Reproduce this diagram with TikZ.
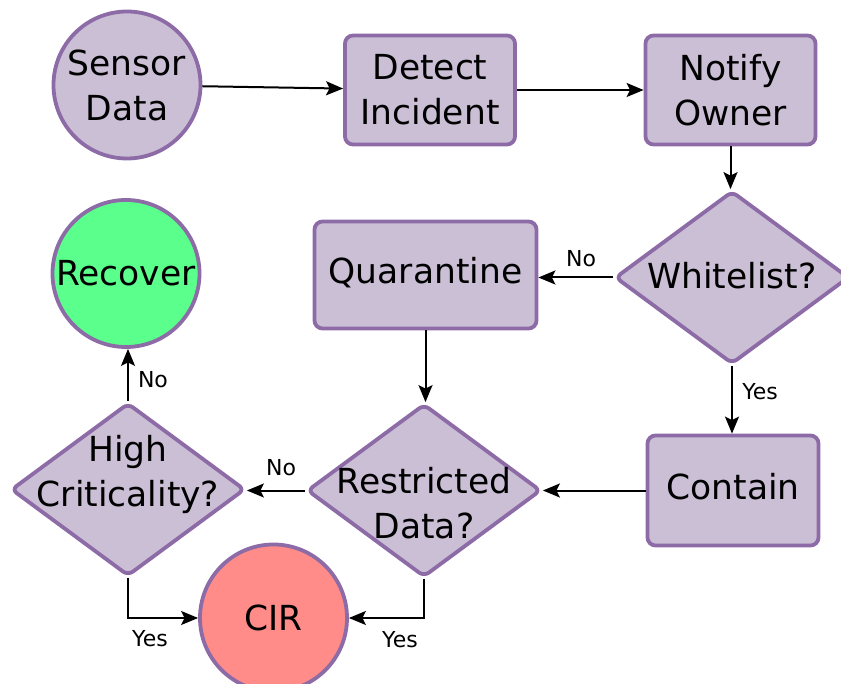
\documentclass[tikz,border=0pt]{standalone}
\usepackage{fontspec}
\setmainfont{DejaVu Sans}
\usetikzlibrary{shapes.geometric,arrows.meta}
\definecolor{fillc}{HTML}{CBBFD6}
\definecolor{bordc}{HTML}{8C6BA6}
\definecolor{greenc}{HTML}{5AFF8C}
\definecolor{redc}{HTML}{FF8C88}
\tikzset{
  base/.style={draw=bordc, fill=fillc, line width=3.8pt, align=center, inner sep=0pt,
    font=\fontsize{34.5}{45}\selectfont},
  boxn/.style={base, rectangle, rounded corners=8pt},
  circn/.style={base, circle, minimum size=147pt},
  dian/.style={base, diamond, rounded corners=6pt, minimum width=234pt, minimum height=173pt},
  txt/.style={align=center, inner sep=0pt, font=\fontsize{34.5}{45}\selectfont},
  lbl/.style={inner sep=0pt, font=\fontsize{22}{25}\selectfont},
  arr/.style={-{Stealth[length=17pt,width=14pt,inset=3.5pt]}, line width=2pt, black}
}
\begin{document}
\begin{tikzpicture}[x=1pt,y=-1pt]
\useasboundingbox (0,0) rectangle (841,684);
% nodes
\node[circn] (sd) at (127,85) {Sensor\\Data};
\node[boxn, minimum width=170pt, minimum height=109pt] (di) at (430,90) {Detect\\Incident};
\node[boxn, minimum width=170pt, minimum height=109pt] (no) at (730.5,90) {Notify\\Owner};
\node[dian] (wl) at (732,277.5) {};
\node[txt] (wlt) at (732,276) {Whitelist?};
\node[boxn, minimum width=222pt, minimum height=107pt] (qu) at (425.5,275) {Quarantine\strut};
\node[circn, fill=greenc] (rec) at (126,273.5) {Recover};
\node[dian] (hc) at (128,489.5) {};
\node[txt] (hct) at (128,474) {High\\Criticality?};
\node[dian] (rd) at (424,490.5) {};
\node[txt] (rdt) at (424,503) {Restricted\\Data?};
\node[boxn, minimum width=171pt, minimum height=110pt] (co) at (733,490.5) {Contain\strut};
\node[circn, fill=redc] (cir) at (273.5,618) {CIR};
% connectors
\draw[arr] (sd) -- (di);
\draw[arr] (di) -- (no);
\draw[arr] (no.south) -- (no.south |- wl.north);
\draw[arr] (wl.west) -- (wl.west -| qu.east);
\draw[arr] (wl.south) -- (wl.south |- co.north);
\draw[arr] (qu.south) -- (qu.south |- rd.north);
\draw[arr] (co.west) -- (co.west -| rd.east);
\draw[arr] (rd.west) -- (rd.west -| hc.east);
\draw[arr] (hc.north) -- (hc.north |- rec.south);
\draw[arr] (hc.south) |- (cir.west);
\draw[arr] (rd.south) |- (cir.east);
% labels
\node[lbl] (l1) at (581,259) {No};
\node[lbl] (l2) at (760,392) {Yes};
\node[lbl] (l3) at (281,468) {No};
\node[lbl] (l4) at (153,380) {No};
\node[lbl] (l5) at (150,639) {Yes};
\node[lbl] (l6) at (400,640) {Yes};
\end{tikzpicture}
\end{document}
